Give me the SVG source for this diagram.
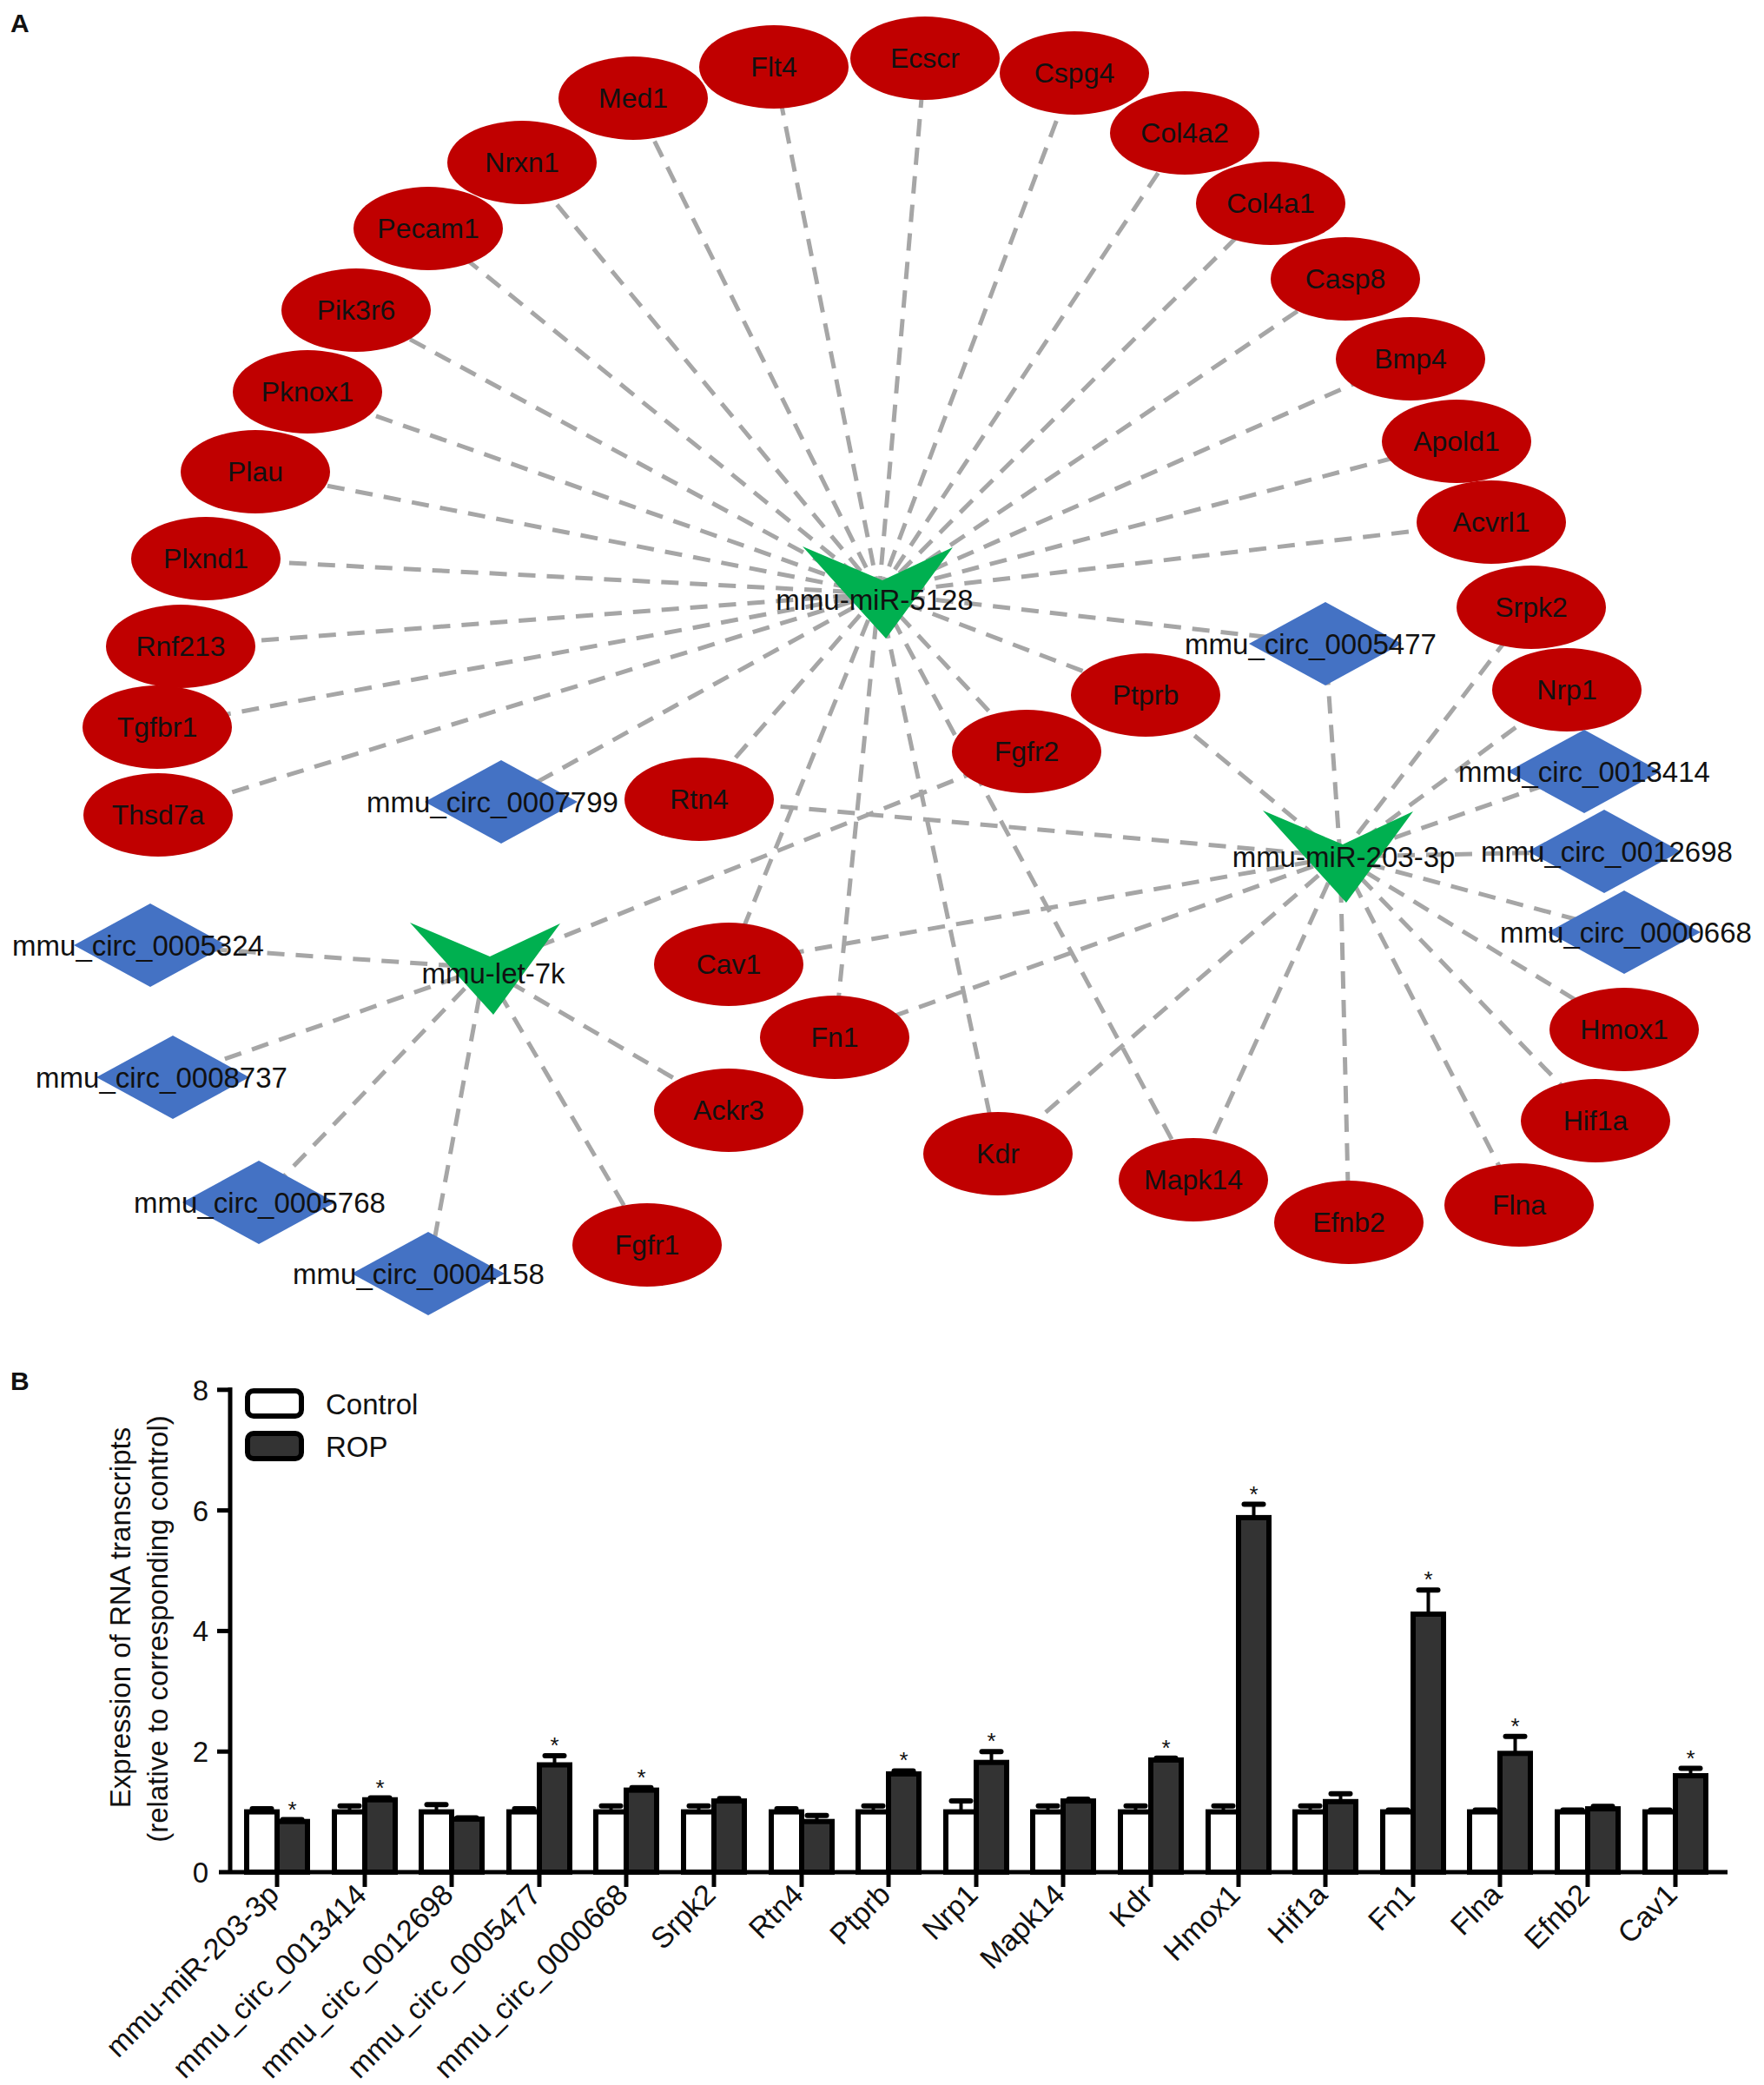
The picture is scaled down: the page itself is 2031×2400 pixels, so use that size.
<svg xmlns="http://www.w3.org/2000/svg" width="2031" height="2400" viewBox="0 0 2031 2400">
<style>
text{font-family:"Liberation Sans",Arial,sans-serif;fill:#111}
.e{stroke:#a6a6a6;stroke-width:5;stroke-dasharray:20 13;fill:none}
.g{fill:#c00000}
.d{fill:#4472c4}
.v{fill:#00b050}
.gl{font-size:32px;text-anchor:middle}
.dl{font-size:33px;text-anchor:middle}
.ax{stroke:#000;stroke-width:5;fill:none}
.bc{fill:#fff;stroke:#000;stroke-width:6}
.br{fill:#333;stroke:#000;stroke-width:6}
.eb{stroke:#000;stroke-width:4}
.cap{stroke:#000;stroke-width:6;stroke-linecap:round}
.st{font-size:26px;text-anchor:middle}
.xl{font-size:34px;text-anchor:end}
.tl{font-size:33px;text-anchor:end}
.pl{font-size:30px;font-weight:bold}
</style>
<rect width="2031" height="2400" fill="#fff"/>
<text class="pl" x="12" y="37">A</text>
<text class="pl" x="12" y="1600">B</text>

<g id="connectors" class="e">
<line x1="1012" y1="683" x2="891" y2="77"/>
<line x1="1012" y1="683" x2="1065" y2="67"/>
<line x1="1012" y1="683" x2="1237" y2="84"/>
<line x1="1012" y1="683" x2="729" y2="113"/>
<line x1="1012" y1="683" x2="1364" y2="153"/>
<line x1="1012" y1="683" x2="601" y2="187"/>
<line x1="1012" y1="683" x2="1463" y2="234"/>
<line x1="1012" y1="683" x2="493" y2="263"/>
<line x1="1012" y1="683" x2="1549" y2="321"/>
<line x1="1012" y1="683" x2="410" y2="357"/>
<line x1="1012" y1="683" x2="1624" y2="413"/>
<line x1="1012" y1="683" x2="354" y2="451"/>
<line x1="1012" y1="683" x2="1677" y2="508"/>
<line x1="1012" y1="683" x2="294" y2="543"/>
<line x1="1012" y1="683" x2="1717" y2="601"/>
<line x1="1012" y1="683" x2="237" y2="643"/>
<line x1="1012" y1="683" x2="208" y2="744"/>
<line x1="1012" y1="683" x2="181" y2="837"/>
<line x1="1012" y1="683" x2="182" y2="938"/>
<line x1="1012" y1="683" x2="1526" y2="741"/>
<line x1="1012" y1="683" x2="1319" y2="800"/>
<line x1="1012" y1="683" x2="1182" y2="865"/>
<line x1="1012" y1="683" x2="805" y2="920"/>
<line x1="1012" y1="683" x2="839" y2="1110"/>
<line x1="1012" y1="683" x2="961" y2="1194"/>
<line x1="1012" y1="683" x2="1149" y2="1328"/>
<line x1="1012" y1="683" x2="1374" y2="1358"/>
<line x1="1012" y1="683" x2="577" y2="923"/>
<line x1="1543" y1="986" x2="1526" y2="741"/>
<line x1="1543" y1="986" x2="1763" y2="699"/>
<line x1="1543" y1="986" x2="1804" y2="794"/>
<line x1="1543" y1="986" x2="1824" y2="888"/>
<line x1="1543" y1="986" x2="1847" y2="980"/>
<line x1="1543" y1="986" x2="1870" y2="1073"/>
<line x1="1543" y1="986" x2="1870" y2="1185"/>
<line x1="1543" y1="986" x2="1837" y2="1290"/>
<line x1="1543" y1="986" x2="1749" y2="1387"/>
<line x1="1543" y1="986" x2="1553" y2="1407"/>
<line x1="1543" y1="986" x2="1374" y2="1358"/>
<line x1="1543" y1="986" x2="1149" y2="1328"/>
<line x1="1543" y1="986" x2="961" y2="1194"/>
<line x1="1543" y1="986" x2="839" y2="1110"/>
<line x1="1543" y1="986" x2="805" y2="920"/>
<line x1="1543" y1="986" x2="1319" y2="800"/>
<line x1="558" y1="1114" x2="1182" y2="865"/>
<line x1="558" y1="1114" x2="173" y2="1088"/>
<line x1="558" y1="1114" x2="199" y2="1240"/>
<line x1="558" y1="1114" x2="298" y2="1384"/>
<line x1="558" y1="1114" x2="493" y2="1466"/>
<line x1="558" y1="1114" x2="745" y2="1433"/>
<line x1="558" y1="1114" x2="839" y2="1278"/>
</g>

<g id="n-Flt4"><ellipse class="g" cx="891" cy="77" rx="86" ry="48"/><text class="gl" x="891" y="88">Flt4</text></g>
<g id="n-Ecscr"><ellipse class="g" cx="1065" cy="67" rx="86" ry="48"/><text class="gl" x="1065" y="78">Ecscr</text></g>
<g id="n-Cspg4"><ellipse class="g" cx="1237" cy="84" rx="86" ry="48"/><text class="gl" x="1237" y="95">Cspg4</text></g>
<g id="n-Med1"><ellipse class="g" cx="729" cy="113" rx="86" ry="48"/><text class="gl" x="729" y="124">Med1</text></g>
<g id="n-Col4a2"><ellipse class="g" cx="1364" cy="153" rx="86" ry="48"/><text class="gl" x="1364" y="164">Col4a2</text></g>
<g id="n-Nrxn1"><ellipse class="g" cx="601" cy="187" rx="86" ry="48"/><text class="gl" x="601" y="198">Nrxn1</text></g>
<g id="n-Col4a1"><ellipse class="g" cx="1463" cy="234" rx="86" ry="48"/><text class="gl" x="1463" y="245">Col4a1</text></g>
<g id="n-Pecam1"><ellipse class="g" cx="493" cy="263" rx="86" ry="48"/><text class="gl" x="493" y="274">Pecam1</text></g>
<g id="n-Casp8"><ellipse class="g" cx="1549" cy="321" rx="86" ry="48"/><text class="gl" x="1549" y="332">Casp8</text></g>
<g id="n-Pik3r6"><ellipse class="g" cx="410" cy="357" rx="86" ry="48"/><text class="gl" x="410" y="368">Pik3r6</text></g>
<g id="n-Bmp4"><ellipse class="g" cx="1624" cy="413" rx="86" ry="48"/><text class="gl" x="1624" y="424">Bmp4</text></g>
<g id="n-Pknox1"><ellipse class="g" cx="354" cy="451" rx="86" ry="48"/><text class="gl" x="354" y="462">Pknox1</text></g>
<g id="n-Apold1"><ellipse class="g" cx="1677" cy="508" rx="86" ry="48"/><text class="gl" x="1677" y="519">Apold1</text></g>
<g id="n-Plau"><ellipse class="g" cx="294" cy="543" rx="86" ry="48"/><text class="gl" x="294" y="554">Plau</text></g>
<g id="n-Acvrl1"><ellipse class="g" cx="1717" cy="601" rx="86" ry="48"/><text class="gl" x="1717" y="612">Acvrl1</text></g>
<g id="n-Plxnd1"><ellipse class="g" cx="237" cy="643" rx="86" ry="48"/><text class="gl" x="237" y="654">Plxnd1</text></g>
<g id="n-Srpk2"><ellipse class="g" cx="1763" cy="699" rx="86" ry="48"/><text class="gl" x="1763" y="710">Srpk2</text></g>
<g id="n-Rnf213"><ellipse class="g" cx="208" cy="744" rx="86" ry="48"/><text class="gl" x="208" y="755">Rnf213</text></g>
<g id="n-Nrp1"><ellipse class="g" cx="1804" cy="794" rx="86" ry="48"/><text class="gl" x="1804" y="805">Nrp1</text></g>
<g id="n-Tgfbr1"><ellipse class="g" cx="181" cy="837" rx="86" ry="48"/><text class="gl" x="181" y="848">Tgfbr1</text></g>
<g id="n-Thsd7a"><ellipse class="g" cx="182" cy="938" rx="86" ry="48"/><text class="gl" x="182" y="949">Thsd7a</text></g>
<g id="n-Ptprb"><ellipse class="g" cx="1319" cy="800" rx="86" ry="48"/><text class="gl" x="1319" y="811">Ptprb</text></g>
<g id="n-Fgfr2"><ellipse class="g" cx="1182" cy="865" rx="86" ry="48"/><text class="gl" x="1182" y="876">Fgfr2</text></g>
<g id="n-Rtn4"><ellipse class="g" cx="805" cy="920" rx="86" ry="48"/><text class="gl" x="805" y="931">Rtn4</text></g>
<g id="n-Cav1"><ellipse class="g" cx="839" cy="1110" rx="86" ry="48"/><text class="gl" x="839" y="1121">Cav1</text></g>
<g id="n-Fn1"><ellipse class="g" cx="961" cy="1194" rx="86" ry="48"/><text class="gl" x="961" y="1205">Fn1</text></g>
<g id="n-Ackr3"><ellipse class="g" cx="839" cy="1278" rx="86" ry="48"/><text class="gl" x="839" y="1289">Ackr3</text></g>
<g id="n-Kdr"><ellipse class="g" cx="1149" cy="1328" rx="86" ry="48"/><text class="gl" x="1149" y="1339">Kdr</text></g>
<g id="n-Mapk14"><ellipse class="g" cx="1374" cy="1358" rx="86" ry="48"/><text class="gl" x="1374" y="1369">Mapk14</text></g>
<g id="n-Efnb2"><ellipse class="g" cx="1553" cy="1407" rx="86" ry="48"/><text class="gl" x="1553" y="1418">Efnb2</text></g>
<g id="n-Flna"><ellipse class="g" cx="1749" cy="1387" rx="86" ry="48"/><text class="gl" x="1749" y="1398">Flna</text></g>
<g id="n-Hif1a"><ellipse class="g" cx="1837" cy="1290" rx="86" ry="48"/><text class="gl" x="1837" y="1301">Hif1a</text></g>
<g id="n-Hmox1"><ellipse class="g" cx="1870" cy="1185" rx="86" ry="48"/><text class="gl" x="1870" y="1196">Hmox1</text></g>
<g id="n-Fgfr1"><ellipse class="g" cx="745" cy="1433" rx="86" ry="48"/><text class="gl" x="745" y="1444">Fgfr1</text></g>

<g id="n-circ0005477"><polygon class="d" points="1438,741 1526,693 1614,741 1526,789"/><text class="dl" x="1509" y="753">mmu_circ_0005477</text></g>
<g id="n-circ0007799"><polygon class="d" points="489,923 577,875 665,923 577,971"/><text class="dl" x="567" y="935">mmu_circ_0007799</text></g>
<g id="n-circ0013414"><polygon class="d" points="1736,888 1824,840 1912,888 1824,936"/><text class="dl" x="1824" y="900">mmu_circ_0013414</text></g>
<g id="n-circ0012698"><polygon class="d" points="1759,980 1847,932 1935,980 1847,1028"/><text class="dl" x="1850" y="992">mmu_circ_0012698</text></g>
<g id="n-circ0000668"><polygon class="d" points="1782,1073 1870,1025 1958,1073 1870,1121"/><text class="dl" x="1872" y="1085">mmu_circ_0000668</text></g>
<g id="n-circ0005324"><polygon class="d" points="85,1088 173,1040 261,1088 173,1136"/><text class="dl" x="159" y="1100">mmu_circ_0005324</text></g>
<g id="n-circ0008737"><polygon class="d" points="111,1240 199,1192 287,1240 199,1288"/><text class="dl" x="186" y="1252">mmu_circ_0008737</text></g>
<g id="n-circ0005768"><polygon class="d" points="210,1384 298,1336 386,1384 298,1432"/><text class="dl" x="299" y="1396">mmu_circ_0005768</text></g>
<g id="n-circ0004158"><polygon class="d" points="405,1466 493,1418 581,1466 493,1514"/><text class="dl" x="482" y="1478">mmu_circ_0004158</text></g>

<g id="n-miR5128"><polygon class="v" points="924,629 1016,668 1097,630 1020,735"/><text class="dl" x="1007" y="702">mmu-miR-5128</text></g>
<g id="n-miR203"><polygon class="v" points="1454,933 1546,972 1627,934 1550,1039"/><text class="dl" x="1547" y="998">mmu-miR-203-3p</text></g>
<g id="n-let7k"><polygon class="v" points="472,1062 564,1101 645,1063 568,1168"/><text class="dl" x="568" y="1132">mmu-let-7k</text></g>

<g id="chart">
<g id="legend">
<rect class="bc" x="285" y="1601" width="62" height="29" rx="7"/>
<rect class="br" x="285" y="1650" width="62" height="29" rx="7"/>
<text x="375" y="1628" font-size="33">Control</text>
<text x="375" y="1677" font-size="33">ROP</text>
</g>
<text transform="translate(150,1862) rotate(-90)" text-anchor="middle" font-size="33">Expression of RNA transcripts</text>
<text transform="translate(193,1875) rotate(-90)" text-anchor="middle" font-size="33">(relative to corresponding control)</text>
<g id="bars">
<!-- 0 -->
<rect class="bc" x="284" y="2085.6" width="35" height="69.4"/><rect class="br" x="319" y="2096.7" width="35" height="58.3"/>
<line class="cap" x1="290.5" y1="2082.1" x2="312.5" y2="2082.1"/><line class="cap" x1="325.5" y1="2094.6" x2="347.5" y2="2094.6"/>
<!-- 1 -->
<rect class="bc" x="385" y="2085.6" width="35" height="69.4"/><rect class="br" x="420" y="2071.7" width="35" height="83.3"/>
<line class="eb" x1="402.5" y1="2085.6" x2="402.5" y2="2078.7"/><line class="cap" x1="391.5" y1="2078.7" x2="413.5" y2="2078.7"/><line class="cap" x1="426.5" y1="2069.6" x2="448.5" y2="2069.6"/>
<!-- 2 -->
<rect class="bc" x="485" y="2085.6" width="35" height="69.4"/><rect class="br" x="520" y="2093.9" width="35" height="61.1"/>
<line class="eb" x1="502.5" y1="2085.6" x2="502.5" y2="2077.3"/><line class="cap" x1="491.5" y1="2077.3" x2="513.5" y2="2077.3"/><line class="cap" x1="526.5" y1="2092.5" x2="548.5" y2="2092.5"/>
<!-- 3 -->
<rect class="bc" x="586" y="2085.6" width="35" height="69.4"/><rect class="br" x="621" y="2031.5" width="35" height="123.5"/>
<line class="cap" x1="592.5" y1="2082.1" x2="614.5" y2="2082.1"/><line class="eb" x1="638.5" y1="2031.5" x2="638.5" y2="2021.1"/><line class="cap" x1="627.5" y1="2021.1" x2="649.5" y2="2021.1"/>
<!-- 4 -->
<rect class="bc" x="686" y="2085.6" width="35" height="69.4"/><rect class="br" x="721" y="2060.6" width="35" height="94.4"/>
<line class="eb" x1="703.5" y1="2085.6" x2="703.5" y2="2078.7"/><line class="cap" x1="692.5" y1="2078.7" x2="714.5" y2="2078.7"/><line class="cap" x1="727.5" y1="2057.8" x2="749.5" y2="2057.8"/>
<!-- 5 -->
<rect class="bc" x="787" y="2085.6" width="35" height="69.4"/><rect class="br" x="822" y="2073.1" width="35" height="81.9"/>
<line class="eb" x1="804.5" y1="2085.6" x2="804.5" y2="2078.7"/><line class="cap" x1="793.5" y1="2078.7" x2="815.5" y2="2078.7"/><line class="cap" x1="828.5" y1="2070.3" x2="850.5" y2="2070.3"/>
<!-- 6 -->
<rect class="bc" x="888" y="2085.6" width="35" height="69.4"/><rect class="br" x="923" y="2096.7" width="35" height="58.3"/>
<line class="cap" x1="894.5" y1="2082.1" x2="916.5" y2="2082.1"/><line class="eb" x1="940.5" y1="2096.7" x2="940.5" y2="2089.7"/><line class="cap" x1="929.5" y1="2089.7" x2="951.5" y2="2089.7"/>
<!-- 7 -->
<rect class="bc" x="988" y="2085.6" width="35" height="69.4"/><rect class="br" x="1023" y="2041.9" width="35" height="113.1"/>
<line class="eb" x1="1005.5" y1="2085.6" x2="1005.5" y2="2078.7"/><line class="cap" x1="994.5" y1="2078.7" x2="1016.5" y2="2078.7"/><line class="cap" x1="1029.5" y1="2038.4" x2="1051.5" y2="2038.4"/>
<!-- 8 -->
<rect class="bc" x="1089" y="2085.6" width="35" height="69.4"/><rect class="br" x="1124" y="2028.7" width="35" height="126.3"/>
<line class="eb" x1="1106.5" y1="2085.6" x2="1106.5" y2="2073.1"/><line class="cap" x1="1095.5" y1="2073.1" x2="1117.5" y2="2073.1"/><line class="eb" x1="1141.5" y1="2028.7" x2="1141.5" y2="2016.2"/><line class="cap" x1="1130.5" y1="2016.2" x2="1152.5" y2="2016.2"/>
<!-- 9 -->
<rect class="bc" x="1189" y="2085.6" width="35" height="69.4"/><rect class="br" x="1224" y="2073.1" width="35" height="81.9"/>
<line class="eb" x1="1206.5" y1="2085.6" x2="1206.5" y2="2078.7"/><line class="cap" x1="1195.5" y1="2078.7" x2="1217.5" y2="2078.7"/><line class="cap" x1="1230.5" y1="2071" x2="1252.5" y2="2071"/>
<!-- 10 -->
<rect class="bc" x="1290" y="2085.6" width="35" height="69.4"/><rect class="br" x="1325" y="2025.9" width="35" height="129.1"/>
<line class="eb" x1="1307.5" y1="2085.6" x2="1307.5" y2="2078.7"/><line class="cap" x1="1296.5" y1="2078.7" x2="1318.5" y2="2078.7"/><line class="cap" x1="1331.5" y1="2023.8" x2="1353.5" y2="2023.8"/>
<!-- 11 -->
<rect class="bc" x="1391" y="2085.6" width="35" height="69.4"/><rect class="br" x="1426" y="1746.9" width="35" height="408.1"/>
<line class="eb" x1="1408.5" y1="2085.6" x2="1408.5" y2="2078.7"/><line class="cap" x1="1397.5" y1="2078.7" x2="1419.5" y2="2078.7"/><line class="eb" x1="1443.5" y1="1746.9" x2="1443.5" y2="1731.6"/><line class="cap" x1="1432.5" y1="1731.6" x2="1454.5" y2="1731.6"/>
<!-- 12 -->
<rect class="bc" x="1491" y="2085.6" width="35" height="69.4"/><rect class="br" x="1526" y="2073.8" width="35" height="81.2"/>
<line class="eb" x1="1508.5" y1="2085.6" x2="1508.5" y2="2078.7"/><line class="cap" x1="1497.5" y1="2078.7" x2="1519.5" y2="2078.7"/><line class="eb" x1="1543.5" y1="2073.8" x2="1543.5" y2="2064.8"/><line class="cap" x1="1532.5" y1="2064.8" x2="1554.5" y2="2064.8"/>
<!-- 13 -->
<rect class="bc" x="1592" y="2085.6" width="35" height="69.4"/><rect class="br" x="1627" y="1858" width="35" height="297"/>
<line class="cap" x1="1598.5" y1="2083.5" x2="1620.5" y2="2083.5"/><line class="eb" x1="1644.5" y1="1858" x2="1644.5" y2="1830.2"/><line class="cap" x1="1633.5" y1="1830.2" x2="1655.5" y2="1830.2"/>
<!-- 14 -->
<rect class="bc" x="1692" y="2085.6" width="35" height="69.4"/><rect class="br" x="1727" y="2018.3" width="35" height="136.7"/>
<line class="cap" x1="1698.5" y1="2083.5" x2="1720.5" y2="2083.5"/><line class="eb" x1="1744.5" y1="2018.3" x2="1744.5" y2="1998.8"/><line class="cap" x1="1733.5" y1="1998.8" x2="1755.5" y2="1998.8"/>
<!-- 15 -->
<rect class="bc" x="1793" y="2085.6" width="35" height="69.4"/><rect class="br" x="1828" y="2082.1" width="35" height="72.9"/>
<line class="cap" x1="1799.5" y1="2083.5" x2="1821.5" y2="2083.5"/><line class="cap" x1="1834.5" y1="2079.3" x2="1856.5" y2="2079.3"/>
<!-- 16 -->
<rect class="bc" x="1894" y="2085.6" width="35" height="69.4"/><rect class="br" x="1929" y="2044" width="35" height="111"/>
<line class="cap" x1="1900.5" y1="2083.5" x2="1922.5" y2="2083.5"/><line class="eb" x1="1946.5" y1="2044" x2="1946.5" y2="2035.6"/><line class="cap" x1="1935.5" y1="2035.6" x2="1957.5" y2="2035.6"/>
</g>
<g id="stars">
<text class="st" x="336.5" y="2091.6">*</text>
<text class="st" x="437.5" y="2066.6">*</text>
<text class="st" x="638.5" y="2018.1">*</text>
<text class="st" x="738.5" y="2054.8">*</text>
<text class="st" x="1040.5" y="2035.4">*</text>
<text class="st" x="1141.5" y="2013.2">*</text>
<text class="st" x="1342.5" y="2020.8">*</text>
<text class="st" x="1443.5" y="1728.6">*</text>
<text class="st" x="1644.5" y="1827.2">*</text>
<text class="st" x="1744.5" y="1995.8">*</text>
<text class="st" x="1946.5" y="2032.6">*</text>
</g>
<g id="axes">
<line class="ax" x1="265" y1="1597" x2="265" y2="2157"/>
<line class="ax" x1="252" y1="2155" x2="1989" y2="2155"/>
<line class="ax" x1="250" y1="1599.8" x2="265" y2="1599.8"/>
<line class="ax" x1="250" y1="1738.6" x2="265" y2="1738.6"/>
<line class="ax" x1="250" y1="1877.4" x2="265" y2="1877.4"/>
<line class="ax" x1="250" y1="2016.2" x2="265" y2="2016.2"/>
<path class="ax" d="M319 2155V2172M420 2155V2172M520 2155V2172M621 2155V2172M721 2155V2172M822 2155V2172M923 2155V2172M1023 2155V2172M1124 2155V2172M1224 2155V2172M1325 2155V2172M1426 2155V2172M1526 2155V2172M1627 2155V2172M1727 2155V2172M1828 2155V2172M1929 2155V2172"/>
<text class="tl" x="240" y="1612">8</text>
<text class="tl" x="240" y="1751">6</text>
<text class="tl" x="240" y="1889">4</text>
<text class="tl" x="240" y="2028">2</text>
<text class="tl" x="240" y="2167">0</text>
</g>
<g id="xlabels">
<text class="xl" transform="translate(323,2183) rotate(-45)">mmu-miR-203-3p</text>
<text class="xl" transform="translate(424,2183) rotate(-45)">mmu_circ_0013414</text>
<text class="xl" transform="translate(524,2183) rotate(-45)">mmu_circ_0012698</text>
<text class="xl" transform="translate(625,2183) rotate(-45)">mmu_circ_0005477</text>
<text class="xl" transform="translate(725,2183) rotate(-45)">mmu_circ_0000668</text>
<text class="xl" transform="translate(826,2183) rotate(-45)">Srpk2</text>
<text class="xl" transform="translate(927,2183) rotate(-45)">Rtn4</text>
<text class="xl" transform="translate(1027,2183) rotate(-45)">Ptprb</text>
<text class="xl" transform="translate(1128,2183) rotate(-45)">Nrp1</text>
<text class="xl" transform="translate(1228,2183) rotate(-45)">Mapk14</text>
<text class="xl" transform="translate(1329,2183) rotate(-45)">Kdr</text>
<text class="xl" transform="translate(1430,2183) rotate(-45)">Hmox1</text>
<text class="xl" transform="translate(1530,2183) rotate(-45)">Hif1a</text>
<text class="xl" transform="translate(1631,2183) rotate(-45)">Fn1</text>
<text class="xl" transform="translate(1731,2183) rotate(-45)">Flna</text>
<text class="xl" transform="translate(1832,2183) rotate(-45)">Efnb2</text>
<text class="xl" transform="translate(1933,2183) rotate(-45)">Cav1</text>
</g>
</g>
</svg>
